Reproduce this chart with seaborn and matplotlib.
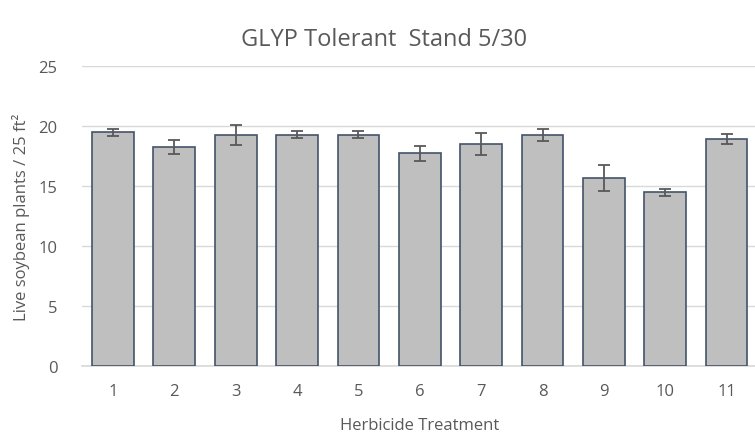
import pandas as pd
import matplotlib
matplotlib.use("Agg")
import matplotlib.pyplot as plt
import seaborn as sns

treatments = ["1", "2", "3", "4", "5", "6", "7", "8", "9", "10", "11"]
stand = [19.47, 18.25, 19.28, 19.28, 19.28, 17.72, 18.5, 19.28, 15.69, 14.47, 18.92]
stderr = [0.28, 0.61, 0.83, 0.28, 0.28, 0.61, 0.94, 0.5, 1.11, 0.33, 0.39]

df = pd.DataFrame({"Treatment": treatments, "Stand": stand, "SE": stderr})

sns.set_theme(style="white")
plt.rcParams["font.family"] = ["Open Sans", "DejaVu Sans"]
text_col = "#595959"

fig = plt.figure(figsize=(7.55, 4.39), dpi=100)
ax = fig.add_axes([0.109, 0.164, 0.894, 0.683])

sns.barplot(data=df, x="Treatment", y="Stand", color="#bfbfbf", width=0.68,
            edgecolor="#44546a", linewidth=1.2, saturation=1, ax=ax, zorder=3)
ax.errorbar(range(len(df)), df["Stand"], yerr=df["SE"], fmt="none",
            ecolor="#595959", elinewidth=1.3, capsize=4, capthick=1.3, zorder=4)

ax.set_xlim(-0.5, len(df) - 0.5)
ax.set_ylim(0, 25)
ax.set_yticks([0, 5, 10, 15, 20, 25])
ax.yaxis.grid(True, color="#d9d9d9", linewidth=1, zorder=0)
ax.set_axisbelow(True)
for s in ["top", "right", "left"]:
    ax.spines[s].set_visible(False)
ax.spines["bottom"].set_color("#d9d9d9")
ax.tick_params(axis="y", colors=text_col, labelsize=12, length=0, pad=18)
ax.tick_params(axis="x", colors=text_col, labelsize=12, length=0, pad=12)

ax.set_xlabel("Herbicide Treatment", color=text_col, fontsize=12, labelpad=13)
ax.set_ylabel("Live soybean plants / 25 ft\u00b2", color=text_col, fontsize=12, labelpad=6)
fig.text(0.509, 0.909, "GLYP Tolerant  Stand 5/30", color=text_col, fontsize=17,
         ha="center", va="center")

fig.savefig("out.png", dpi=100)
